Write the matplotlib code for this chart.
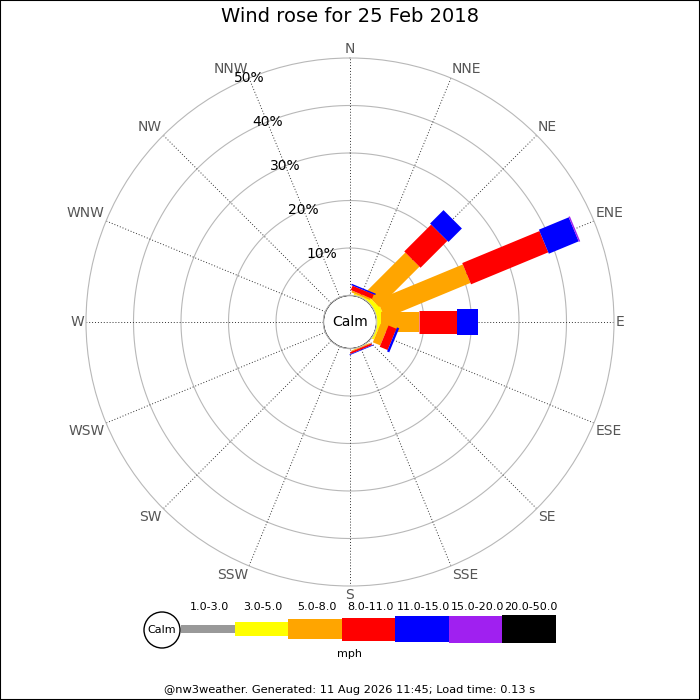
import numpy as np
import matplotlib; matplotlib.use('agg')
import matplotlib.pyplot as plt
from matplotlib.patches import Rectangle, Circle


directions = ['N', 'NNE', 'NE', 'ENE', 'E', 'ESE', 'SE', 'SSE',
              'S', 'SSW', 'SW', 'WSW', 'W', 'WNW', 'NW', 'NNW']
speed_bins = ['1.0-3.0', '3.0-5.0', '5.0-8.0', '8.0-11.0',
              '11.0-15.0', '15.0-20.0', '20.0-50.0']
bin_colors = ['#999999', '#ffff00', '#ffa500', '#ff0000',
              '#0000ff', '#a020f0', '#000000']
bin_px = [8, 14, 20, 23, 26, 27, 28]   # bar thickness in pixels

# percent of time per direction, one list per speed class
pct_1_3 = [0, 0, 0, 0, 0, 0, 0, 0, 0, 0, 0, 0, 0, 0, 0, 0]
pct_3_5 = [0, 0.3, 1.0, 1.5, 1.0, 0.5, 0, 0.1, 0, 0, 0, 0, 0, 0, 0, 0]
pct_5_8 = [0, 0.4, 12.0, 19.5, 8.0, 1.7, 0, 0.2, 0, 0, 0, 0, 0, 0, 0, 0]
pct_8_11 = [0, 1.0, 8.0, 17.6, 8.0, 1.8, 0, 0.4, 0, 0, 0, 0, 0, 0, 0, 0]
pct_11_15 = [0, 0.3, 4.0, 6.8, 4.4, 0.5, 0, 0.15, 0, 0, 0, 0, 0, 0, 0, 0]
pct_15_20 = [0, 0, 0, 0.3, 0, 0, 0, 0, 0, 0, 0, 0, 0, 0, 0, 0]
pct_20_50 = [0, 0, 0, 0, 0, 0, 0, 0, 0, 0, 0, 0, 0, 0, 0, 0]

ring_pcts = [10, 20, 30, 40, 50]
title = 'Wind rose for 25 Feb 2018'
footer = '@nw3weather. Generated: 11 Aug 2026 11:45; Load time: 0.13 s'


def main():
    fig = plt.figure(figsize=(7, 7), dpi=100)
    fig.patches.append(Rectangle((0, 0), 1, 1, transform=fig.transFigure,
                                 fill=False, edgecolor='black', lw=1.5))

    ax = fig.add_axes([86 / 700, 114 / 700, 528 / 700, 528 / 700],
                      projection='polar')
    ax.set_theta_zero_location('N')
    ax.set_theta_direction(-1)
    ax.set_ylim(0, 50)
    ax.set_rorigin(-26.5 / 4.75)
    ax.grid(False)
    ax.set_xticks([])
    ax.set_yticks([])
    ax.spines['polar'].set_color('#b8b8b8')
    ax.spines['polar'].set_linewidth(0.8)
    ax.spines['inner'].set_visible(False)

    thetas = np.deg2rad(np.arange(16) * 22.5)
    fine = np.linspace(0, 2 * np.pi, 400)

    # rings and spokes
    for r in ring_pcts[:-1]:
        ax.plot(fine, np.full_like(fine, r), color='#b8b8b8', lw=0.8, zorder=1)
    for t in thetas:
        ax.plot([t, t], [0, 50], color='#333333', lw=0.7,
                linestyle=(0, (1, 2)), zorder=1)

    # stacked bars
    classes = [pct_1_3, pct_3_5, pct_5_8, pct_8_11, pct_11_15, pct_15_20, pct_20_50]
    cum = np.zeros(16)
    for vals, col, px in zip(classes, bin_colors, bin_px):
        vals = np.array(vals, dtype=float)
        for i in range(16):
            if vals[i] > 0:
                ax.plot([thetas[i], thetas[i]], [cum[i], cum[i] + vals[i]],
                        color=col, lw=px * 0.72, solid_capstyle='butt',
                        zorder=3, clip_on=False)
        cum += vals

    # calm circle
    ax.fill(fine, np.zeros_like(fine), color='white', zorder=4)
    ax.plot(fine, np.zeros_like(fine), color='#aaaaaa', lw=1, zorder=5)
    ax.text(0.5, 0.5, 'Calm', transform=ax.transAxes, ha='center',
            va='center', fontsize=10, zorder=6)

    # compass labels, anchored at their inner edge
    for t, name in zip(thetas, directions):
        s, c = np.sin(t), np.cos(t)
        ha = 'center' if abs(s) < 0.1 else ('left' if s > 0 else 'right')
        va = 'center' if abs(c) < 0.1 else ('bottom' if c > 0 else 'top')
        ax.text(t, 50.4, name, ha=ha, va=va, fontsize=10,
                color='#555555', clip_on=False)
    for r in ring_pcts:
        ax.text(np.deg2rad(337.5), r, '%d%%' % r, ha='center', va='center',
                fontsize=10, color='black', zorder=6)

    fig.text(0.5, 1 - 17 / 700, title, ha='center', va='center', fontsize=14)

    # legend strip in pixel coordinates
    lg = fig.add_axes([0, 0, 1, 1])
    lg.set_xlim(0, 700)
    lg.set_ylim(700, 0)
    lg.axis('off')
    lg.add_patch(Circle((162, 630), 18, facecolor='white', edgecolor='black', lw=1))
    lg.text(162, 630, 'Calm', ha='center', va='center', fontsize=8)
    x0 = 181
    seg = 53.5
    for k, (lab, col, px) in enumerate(zip(speed_bins, bin_colors, bin_px)):
        x = x0 + k * seg
        lg.add_patch(Rectangle((x, 629 - px / 2), seg, px, facecolor=col,
                               edgecolor='none'))
        lg.text(x + seg / 2 + 2, 607, lab, ha='center', va='center', fontsize=8)
    lg.text(350, 654, 'mph', ha='center', va='center', fontsize=8)
    lg.text(350, 690, footer, ha='center', va='center', fontsize=8.2)

    fig.savefig('out.png', dpi=100)


if __name__ == '__main__':
    main()
